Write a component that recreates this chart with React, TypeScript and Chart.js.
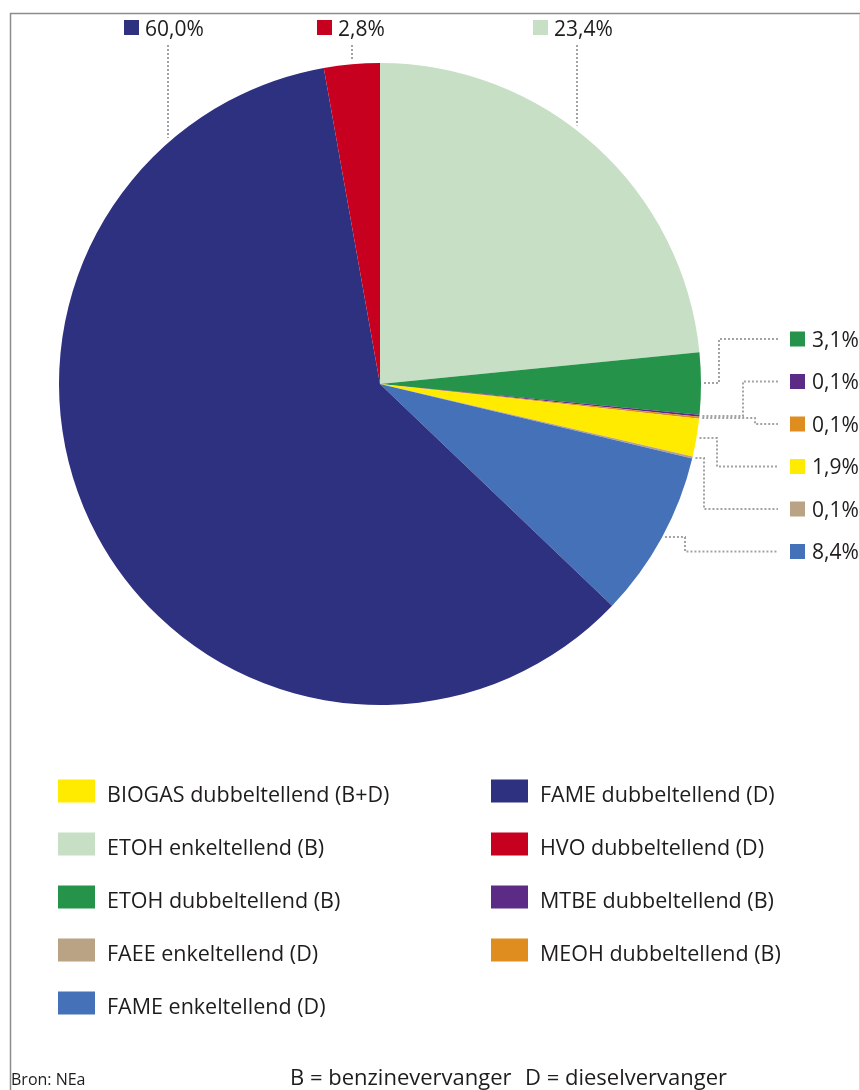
import React, { useEffect, useRef } from "react";
import { Chart, registerables } from "chart.js";

Chart.register(...registerables);

// ---- data (clockwise from 12 o'clock) ----
const categories = [
  "ETOH enkeltellend (B)",
  "ETOH dubbeltellend (B)",
  "MTBE dubbeltellend (B)",
  "MEOH dubbeltellend (B)",
  "BIOGAS dubbeltellend (B+D)",
  "FAEE enkeltellend (D)",
  "FAME enkeltellend (D)",
  "FAME dubbeltellend (D)",
  "HVO dubbeltellend (D)",
];
const shares = [23.4, 3.1, 0.1, 0.1, 1.9, 0.1, 8.4, 60.0, 2.8];
const sliceColors = [
  "#c7dfc5",
  "#25934a",
  "#5c2b85",
  "#df8d1f",
  "#ffeb00",
  "#baa384",
  "#4571b8",
  "#2e3080",
  "#c8001f",
];
// legend order (indices into categories)
const legendLeftColumn = [4, 0, 1, 5, 6];
const legendRightColumn = [7, 8, 2, 3];
const sourceNote = "Bron: NEa";
const keyNotes = ["B = benzinevervanger", "D = dieselvervanger"];

// ---- styling / layout ----
const FONT = '"Open Sans", "Noto Sans", sans-serif';
const TEXT = "#1e1c1d";
const LEADER = "#a3a3a3";

type Callout =
  | { side: "top"; sq: number; line: number }
  | { side: "right"; y: number; elbow: number };

const CALLOUTS: Record<number, Callout> = {
  0: { side: "top", sq: 533, line: 577 },
  7: { side: "top", sq: 124, line: 168 },
  8: { side: "top", sq: 317, line: 352 },
  1: { side: "right", y: 339, elbow: 719 },
  2: { side: "right", y: 381.5, elbow: 743 },
  3: { side: "right", y: 424, elbow: 755 },
  4: { side: "right", y: 466.5, elbow: 717 },
  5: { side: "right", y: 509, elbow: 704 },
  6: { side: "right", y: 551.5, elbow: 685 },
};

const fmt = (v: number) => v.toFixed(1).replace(".", ",") + "%";

const decorPlugin = {
  id: "decor",
  afterDraw(chart: any) {
    const ctx: CanvasRenderingContext2D = chart.ctx;
    const meta = chart.getDatasetMeta(0);
    const values: number[] = chart.data.datasets[0].data;
    const colors: string[] = chart.data.datasets[0].backgroundColor;
    const labels: string[] = chart.data.labels;
    const first = meta.data[0];
    const cx = first.x;
    const cy = first.y;
    const r = first.outerRadius;

    ctx.save();
    // frame
    ctx.strokeStyle = "#8c8c8c";
    ctx.lineWidth = 1.5;
    ctx.beginPath();
    ctx.moveTo(860, 13.5);
    ctx.lineTo(10.5, 13.5);
    ctx.lineTo(10.5, 1090);
    ctx.stroke();
    ctx.strokeStyle = "#dcdcdc";
    ctx.lineWidth = 1;
    ctx.beginPath();
    ctx.moveTo(859.5, 14);
    ctx.lineTo(859.5, 1090);
    ctx.stroke();

    // callouts
    ctx.lineWidth = 2;
    Object.keys(CALLOUTS).forEach((k) => {
      const i = Number(k);
      const c = CALLOUTS[i];
      const arc = meta.data[i];
      const mid = (arc.startAngle + arc.endAngle) / 2;
      ctx.setLineDash([2, 2]);
      ctx.strokeStyle = LEADER;
      if (c.side === "top") {
        const dx = c.line - cx;
        const edgeY = cy - Math.sqrt(r * r - dx * dx);
        ctx.beginPath();
        ctx.moveTo(c.line, 45);
        ctx.lineTo(c.line, edgeY - 5);
        ctx.stroke();
        ctx.setLineDash([]);
        ctx.fillStyle = colors[i];
        ctx.fillRect(c.sq, 20, 15, 15);
        ctx.fillStyle = TEXT;
        ctx.font = `21px ${FONT}`;
        ctx.textAlign = "left";
        ctx.textBaseline = "alphabetic";
        ctx.fillText(fmt(values[i]), c.sq + 21, 35.5);
      } else {
        const ax = cx + r * Math.cos(mid);
        const ay = Math.round(cy + r * Math.sin(mid));
        ctx.beginPath();
        ctx.moveTo(ax + 3, ay);
        ctx.lineTo(c.elbow, ay);
        ctx.lineTo(c.elbow, c.y);
        ctx.lineTo(778, c.y);
        ctx.stroke();
        ctx.setLineDash([]);
        ctx.fillStyle = colors[i];
        ctx.fillRect(790, c.y - 7.5, 15, 15);
        ctx.fillStyle = TEXT;
        ctx.font = `21px ${FONT}`;
        ctx.textAlign = "left";
        ctx.textBaseline = "alphabetic";
        ctx.fillText(fmt(values[i]), 812, c.y + 7.5);
      }
    });
    ctx.setLineDash([]);

    // legend
    const rowY = [791, 844, 897, 950, 1003];
    const drawCol = (idx: number[], sqX: number, txX: number) => {
      idx.forEach((i, n) => {
        const y = rowY[n];
        ctx.fillStyle = colors[i];
        ctx.fillRect(sqX, y - 11.5, 37, 23);
        ctx.fillStyle = TEXT;
        ctx.font = `21.5px ${FONT}`;
        ctx.textAlign = "left";
        ctx.textBaseline = "alphabetic";
        ctx.fillText(labels[i], txX, y + 10.5);
      });
    };
    drawCol(legendLeftColumn, 58, 107);
    drawCol(legendRightColumn, 491, 540);

    // footnotes
    ctx.fillStyle = TEXT;
    ctx.font = `16px ${FONT}`;
    ctx.fillText(sourceNote, 11, 1085);
    ctx.font = `22px ${FONT}`;
    ctx.fillText(keyNotes[0], 290, 1085);
    ctx.fillText(keyNotes[1], 525, 1085);
    ctx.restore();
  },
};

export default function App() {
  const ref = useRef<HTMLCanvasElement | null>(null);

  useEffect(() => {
    if (!ref.current) return;
    const chart = new Chart(ref.current, {
      type: "pie",
      data: {
        labels: categories,
        datasets: [
          {
            data: shares,
            backgroundColor: sliceColors,
            borderWidth: 0,
          },
        ],
      },
      options: {
        responsive: false,
        animation: false,
        layout: { padding: { left: 59, right: 159, top: 63, bottom: 385 } },
        plugins: {
          legend: { display: false },
          tooltip: { enabled: false },
          title: { display: false },
        },
      },
      plugins: [decorPlugin],
    });
    return () => chart.destroy();
  }, []);

  return (
    <div style={{ position: "absolute", left: 0, top: 0, width: 860, height: 1090, background: "#fff" }}>
      <canvas ref={ref} width={860} height={1090} style={{ display: "block" }} />
    </div>
  );
}
